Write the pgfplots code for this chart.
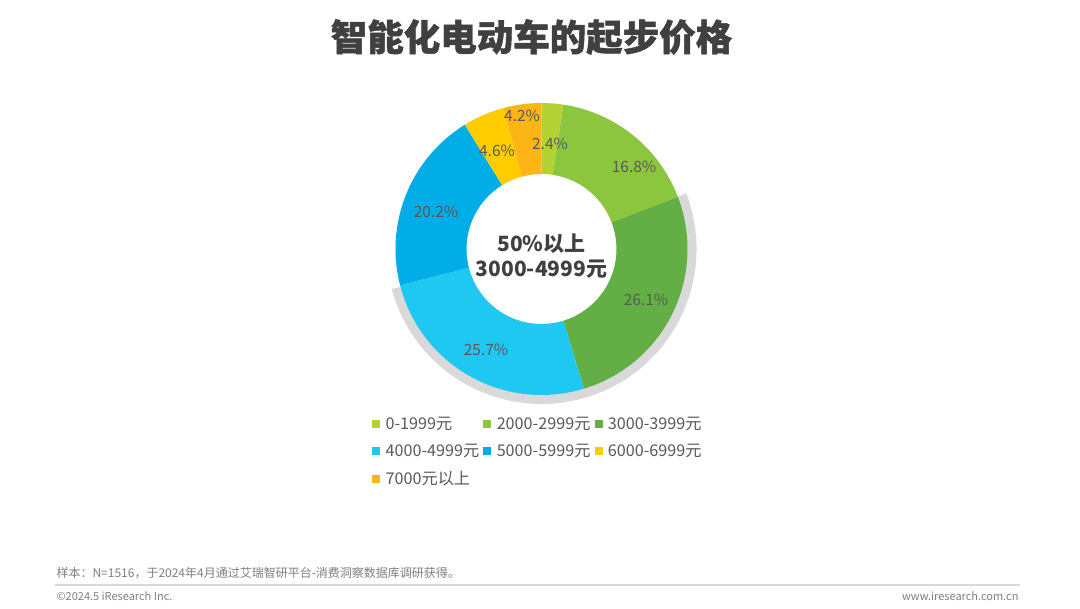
\documentclass[border=0pt]{standalone}
\usepackage{pgfplots}
\pgfplotsset{compat=1.18}
\usepackage{pgfplotstable}
\usepackage{fontspec}
\setmainfont{Noto Sans CJK SC}
\newfontfamily\titlefont{Noto Sans CJK SC}[BoldFeatures={FakeBold=1.2}]

\definecolor{c1}{HTML}{B4D234}
\definecolor{c2}{HTML}{8CC63F}
\definecolor{c3}{HTML}{63AE45}
\definecolor{c4}{HTML}{1FC8F1}
\definecolor{c5}{HTML}{00ADE6}
\definecolor{c6}{HTML}{FFCC00}
\definecolor{c7}{HTML}{FDB515}
\definecolor{lblgray}{HTML}{595959}
\definecolor{titlegray}{HTML}{404040}
\definecolor{footgray}{HTML}{7F7F7F}
\definecolor{shadowgray}{HTML}{D9D9D9}

\tikzset{lbl/.style={text=lblgray, font=\fontsize{15.5}{18}\selectfont}}

% share in %, slice colour, label position (image px, y from top)
\pgfplotstableread{
share  color  lx   ly
2.4    c1     550  144
16.8   c2     634  167
26.1   c3     646  300
25.7   c4     486  350
20.2   c5     436  212
4.6    c6     497  151
4.2    c7     522  116
}\slices

\newcommand{\sq}[1]{\addlegendimage{legend image code/.code={%
    \fill[#1] (0pt,-3.5pt) rectangle (7pt,3.5pt); \path (11pt,0pt);}}}

\begin{document}
\begin{tikzpicture}
\path[use as bounding box] (0,0) rectangle (1080pt,609pt);
\fill[white] (0,0) rectangle (1080pt,609pt);
\begin{axis}[
    at={(0,0)}, anchor=south west,
    width=1080pt, height=609pt, scale only axis,
    xmin=0, xmax=1080, ymin=0, ymax=609,
    hide axis, clip=false,
    legend columns=3,
    legend cell align=left,
    legend style={
        at={(axis cs:372,194)}, anchor=north west,
        draw=none, fill=none, inner sep=0pt,
        font=\fontsize{16.2}{19}\selectfont, text=lblgray,
        row sep=9pt,
        /tikz/every even column/.append style={column sep=2pt},
    },
]
% shadow ring
\fill[shadowgray] ([shift={(21:155pt)}]axis cs:541.5,360)
    arc[start angle=21, end angle=-165, radius=155pt]
    -- ([shift={(-165:140pt)}]axis cs:541.5,360)
    arc[start angle=-165, end angle=21, radius=140pt] -- cycle;

% slices, clockwise from the top
\def\acc{0}
\pgfplotsforeachungrouped \i in {0,...,6}{%
  \pgfplotstablegetelem{\i}{share}\of\slices \let\v\pgfplotsretval
  \pgfplotstablegetelem{\i}{color}\of\slices \let\c\pgfplotsretval
  \pgfmathsetmacro\a{90-3.6*\acc}
  \pgfmathsetmacro\b{90-3.6*(\acc+\v)}
  \edef\temp{%
    \noexpand\fill[\c] ([shift={(\a:146pt)}]axis cs:541.5,360)
      arc[start angle=\a, end angle=\b, radius=146pt]
      -- ([shift={(\b:75pt)}]axis cs:541.5,360)
      arc[start angle=\b, end angle=\a, radius=75pt] -- cycle;
  }%
  \temp
  \pgfmathsetmacro\acc{\acc+\v}
}

% value labels on top
\pgfplotsforeachungrouped \i in {0,...,6}{%
  \pgfplotstablegetelem{\i}{share}\of\slices \let\v\pgfplotsretval
  \pgfplotstablegetelem{\i}{lx}\of\slices \let\lx\pgfplotsretval
  \pgfplotstablegetelem{\i}{ly}\of\slices \pgfmathsetmacro\ly{609-\pgfplotsretval}
  \edef\temp{\noexpand\node[lbl] at (axis cs:\lx,\ly) {\v\noexpand\%};}%
  \temp
}

\node[text=titlegray, font=\bfseries\fontsize{21}{25}\selectfont, align=center]
  at (axis cs:541.5,353) {50\%以上\\3000-4999元};

\node[text=titlegray, font=\titlefont\bfseries\fontsize{36.5}{40}\selectfont]
  at (axis cs:531.5,572) {智能化电动车的起步价格};

\node[anchor=west, text=footgray, font=\fontsize{12}{14}\selectfont]
  at (axis cs:53,36) {样本：N=1516，于2024年4月通过艾瑞智研平台-消费洞察数据库调研获得。};
\draw[shadowgray, line width=1.5pt] (axis cs:55,24) -- (axis cs:1020,24);
\node[anchor=west, text=footgray, font=\fontsize{11}{13}\selectfont]
  at (axis cs:53,13) {©2024.5 iResearch Inc.};
\node[anchor=east, text=footgray, font=\fontsize{11}{13}\selectfont]
  at (axis cs:1022,13) {www.iresearch.com.cn};

\sq{c1}\addlegendentry{0-1999元}
\sq{c2}\addlegendentry{2000-2999元}
\sq{c3}\addlegendentry{3000-3999元}
\sq{c4}\addlegendentry{4000-4999元}
\sq{c5}\addlegendentry{5000-5999元}
\sq{c6}\addlegendentry{6000-6999元}
\sq{c7}\addlegendentry{7000元以上}
\end{axis}
\end{tikzpicture}
\end{document}
